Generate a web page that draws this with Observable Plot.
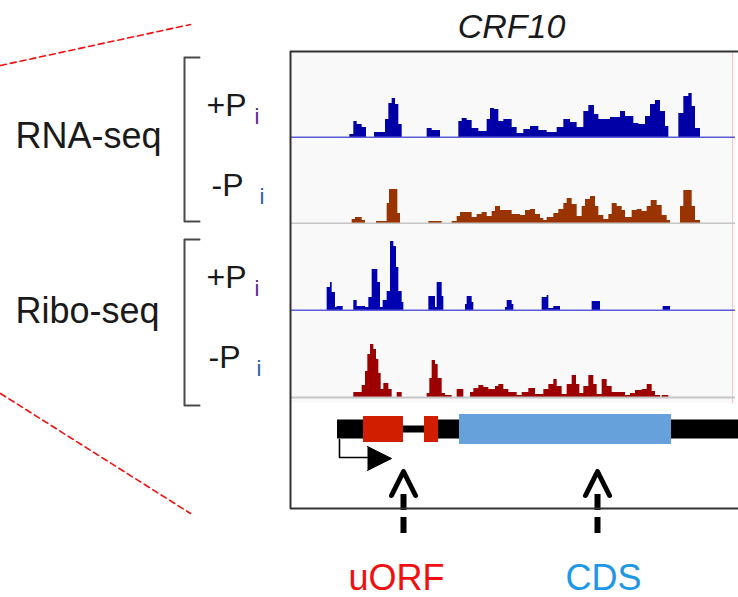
<!DOCTYPE html>
<html><head><meta charset="utf-8">
<script src="https://cdn.jsdelivr.net/npm/d3@7"></script>
<script src="https://cdn.jsdelivr.net/npm/@observablehq/plot@0.6"></script>
<style>
html,body{margin:0;padding:0;background:#fff;}
#fig{position:relative;width:738px;height:597px;overflow:hidden;background:#fff;}
</style></head><body><div id="fig"></div>
<script>
// ---------- DATA (locus coordinate 0..1344 spans the browser window) ----------
const geneName = "CRF10";
const assays = ["RNA-seq", "Ribo-seq"];
const conditions = ["+P", "-P", "+P", "-P"];
const conditionSub = "i";

// coverage profiles: [step start, coverage]
const rnaPlus = [[178,3],[190,16],[200,13],[215,10],[228,0],[252,5],[285,18],[295,34],[305,39],[315,33],[325,13],[335,0],
 [410,9],[425,7],[450,0],[505,16],[515,19],[530,17],[545,9],[565,6],[590,18],[600,29],[612,28],[625,16],[640,18],[665,10],
 [680,4],[700,8],[720,11],[745,7],[770,5],[800,10],[820,18],[840,15],[860,10],[880,26],[895,32],[912,23],[925,18],[960,20],
 [990,26],[1005,21],[1030,14],[1045,13],[1065,21],[1080,33],[1095,37],[1110,26],[1125,11],[1135,0],
 [1165,24],[1180,41],[1195,44],[1205,31],[1215,9],[1230,0]];
const rnaMinus = [[185,4],[195,6],[215,3],[225,0],[258,2],[290,20],[297,34],[322,10],[330,0],[415,2],[455,0],[485,2],[500,7],
 [510,11],[545,6],[560,9],[575,11],[590,7],[605,12],[615,17],[630,13],[665,9],[690,8],[705,13],[720,14],[735,9],[750,5],
 [760,3],[770,6],[790,10],[805,14],[820,20],[830,25],[845,19],[860,7],[875,17],[885,24],[900,27],[915,17],[925,8],[940,4],
 [955,9],[965,20],[980,17],[995,13],[1005,6],[1025,13],[1040,14],[1055,12],[1070,17],[1082,23],[1100,18],[1115,8],[1130,3],
 [1140,0],[1170,17],[1180,33],[1205,17],[1215,3],[1230,0]];
const riboPlus = [[110,23],[120,28],[125,18],[135,3],[140,4],[158,0],[190,10],[200,4],[225,3],[235,13],[245,41],[262,28],
 [270,3],[278,10],[290,19],[300,69],[310,64],[318,43],[325,19],[335,8],[340,0],[415,14],[435,3],[440,28],[455,14],[460,0],
 [525,6],[530,14],[545,8],[550,0],[645,3],[650,10],[665,6],[670,0],[755,13],[770,15],[775,2],[790,4],[810,0],[905,9],[930,0],
 [1118,4],[1140,0]];
const riboMinus = [[190,5],[215,12],[225,26],[232,43],[240,53],[250,48],[258,38],[265,24],[272,8],[280,14],[295,8],[305,0],
 [320,5],[335,0],[410,4],[418,19],[425,37],[435,33],[443,19],[455,4],[465,2],[485,0],[500,8],[520,0],[540,5],[550,9],[565,12],
 [580,10],[595,8],[615,11],[625,13],[640,8],[655,5],[680,2],[695,5],[715,9],[735,3],[760,8],[775,13],[790,18],[800,11],
 [815,3],[830,13],[845,22],[858,13],[868,4],[880,11],[895,22],[910,13],[920,3],[935,18],[950,11],[965,5],[1005,2],[1020,4],
 [1035,7],[1055,8],[1070,13],[1085,6],[1095,2],[1110,0],[1115,2],[1135,0]];

// gene model features
const geneParts = [
  {type:"utr", start:141, end:339},
  {type:"intron", start:339, end:402},
  {type:"utr", start:402, end:1400},
  {type:"uorf", start:219, end:339},
  {type:"uorf", start:402, end:444},
  {type:"cds", start:507, end:1143}
];
const tssPos = 147;
const featureArrows = [339, 921];
const featureLabels = ["uORF", "CDS"];
const featureLabelPos = [318, 939];

// ---------- LAYOUT / STYLE ----------
const FONT = "Liberation Sans, Arial, sans-serif";
const fig = document.getElementById("fig");
const locus = [0, 1344];
const place = (el, left, top) => { el.style.position = "absolute"; el.style.left = left + "px"; el.style.top = top + "px"; fig.appendChild(el); };

const tracks = [
  {data: rnaPlus,  fill: "#0000a6", base: "#5c5cd6", top: 52,  height: 86, baseline: 85},
  {data: rnaMinus, fill: "#993300", base: "#c6c6c6", top: 138, height: 86, baseline: 85},
  {data: riboPlus, fill: "#0000b0", base: "#5c5cd6", top: 224, height: 87, baseline: 86},
  {data: riboMinus,fill: "#9c0000", base: "#c6c6c6", top: 311, height: 92, baseline: 86}
];
tracks.forEach(t => {
  const svg = Plot.plot({
    width: 444, height: t.height, margin: 0,
    x: {domain: locus, range: [-1, 447], axis: null},
    y: {domain: [0, t.baseline], range: [t.baseline, 0], axis: null},
    style: {background: "#f9f9f9"},
    marks: [
      Plot.ruleX([1326], {stroke: "#f6c8c8", strokeWidth: 1}),
      Plot.areaY(t.data, {x: d => d[0], y: d => d[1], curve: "step-after", fill: t.fill}),
      Plot.ruleY([0], {stroke: t.base, strokeWidth: 2})
    ]
  });
  place(svg, 291, t.top);
});

// gene model + feature arrows
const halfH = {utr: 9.5, intron: 3.5, uorf: 13, cds: 15};
const partColor = {utr: "#000000", intron: "#000000", uorf: "#d21e00", cds: "#66a1dc"};
const labelColor = {"uORF": "#f01010", "CDS": "#1e98e6"};
const C = 26; // gene axis centre
const gene = Plot.plot({
  width: 447, height: 194, margin: 0,
  x: {domain: locus, range: [-1, 447], axis: null},
  y: {type: "identity", axis: null},
  style: {background: "transparent"},
  marks: [
    Plot.rect(geneParts, {x1: "start", x2: "end", y1: d => C - halfH[d.type], y2: d => C + halfH[d.type], fill: d => partColor[d.type]}),
    Plot.line([[tssPos, C + 10], [tssPos, C + 28], [tssPos + 84, C + 28]], {x: d => d[0], y: d => d[1], stroke: "#000", strokeWidth: 1.6}),
    Plot.line([[tssPos + 84, C + 17], [tssPos + 156, C + 29], [tssPos + 84, C + 41]], {x: d => d[0], y: d => d[1], fill: "#000", stroke: "#000", strokeWidth: 1}),
    Plot.line(featureArrows.flatMap((x, i) => [[x - 36, C + 66, i], [x, C + 42, i], [x + 36, C + 66, i]]),
      {x: d => d[0], y: d => d[1], z: d => d[2], stroke: "#000", strokeWidth: 5, strokeLinecap: "round", strokeLinejoin: "round"}),
    Plot.ruleX(featureArrows, {y1: C + 65, y2: C + 106, stroke: "#000", strokeWidth: 6, strokeDasharray: "16,7"}),
    Plot.text(featureLabels, {x: (d, i) => featureLabelPos[i], y: 186, text: d => d, fill: d => labelColor[d],
      fontSize: 36, fontFamily: FONT, textAnchor: "middle", lineAnchor: "bottom"})
  ]
});
place(gene, 291, 403);

// annotation overlay (frame, brackets, labels, zoom lines)
const condRows = [
  {label: conditions[0], x: 206, y: 115, subColor: "#5a2a86"},
  {label: conditions[1], x: 211, y: 195, subColor: "#2a62b0"},
  {label: conditions[2], x: 206, y: 287, subColor: "#5a2a86"},
  {label: conditions[3], x: 208, y: 367, subColor: "#2a62b0"}
];
const overlay = Plot.plot({
  width: 738, height: 597, margin: 0,
  x: {type: "identity", axis: null},
  y: {type: "identity", axis: null},
  style: {background: "transparent"},
  marks: [
    // zoom lines
    Plot.line([[0, 65, 0], [190, 24, 0], [0, 393, 1], [190, 513, 1]], {x: d => d[0], y: d => d[1], z: d => d[2], stroke: "#f01010", strokeWidth: 1.6, strokeDasharray: "6,4"}),
    // brackets
    Plot.line([[199, 57, 0], [184, 57, 0], [184, 221, 0], [199, 221, 0], [199, 239, 1], [184, 239, 1], [184, 405, 1], [199, 405, 1]],
      {x: d => d[0], y: d => d[1], z: d => d[2], stroke: "#4a4a4a", strokeWidth: 2, strokeLinejoin: "round"}),
    // frame
    Plot.line([[740, 51], [290, 51], [290, 508], [740, 508]], {x: d => d[0], y: d => d[1], stroke: "#333", strokeWidth: 2}),
    // title
    Plot.text([geneName], {x: 511, y: 37, text: d => d, fontSize: 34, fontStyle: "italic", fontFamily: FONT, fill: "#1a1a1a", textAnchor: "middle", lineAnchor: "bottom"}),
    // assay labels
    Plot.text(assays, {x: 15, y: (d, i) => [147, 322][i], text: d => d, fontSize: 36, fontFamily: FONT, fill: "#1a1a1a", textAnchor: "start", lineAnchor: "bottom"}),
    // condition labels
    Plot.text(condRows, {x: "x", y: "y", text: "label", fontSize: 32, fontFamily: FONT, fill: "#1a1a1a", textAnchor: "start", lineAnchor: "bottom"}),
    Plot.text(condRows, {x: d => d.x + 48, y: d => d.y + 8, text: () => conditionSub, fill: d => d.subColor, fontSize: 22, fontFamily: FONT, textAnchor: "start", lineAnchor: "bottom"})
  ]
});
place(overlay, 0, 0);
</script></body></html>
